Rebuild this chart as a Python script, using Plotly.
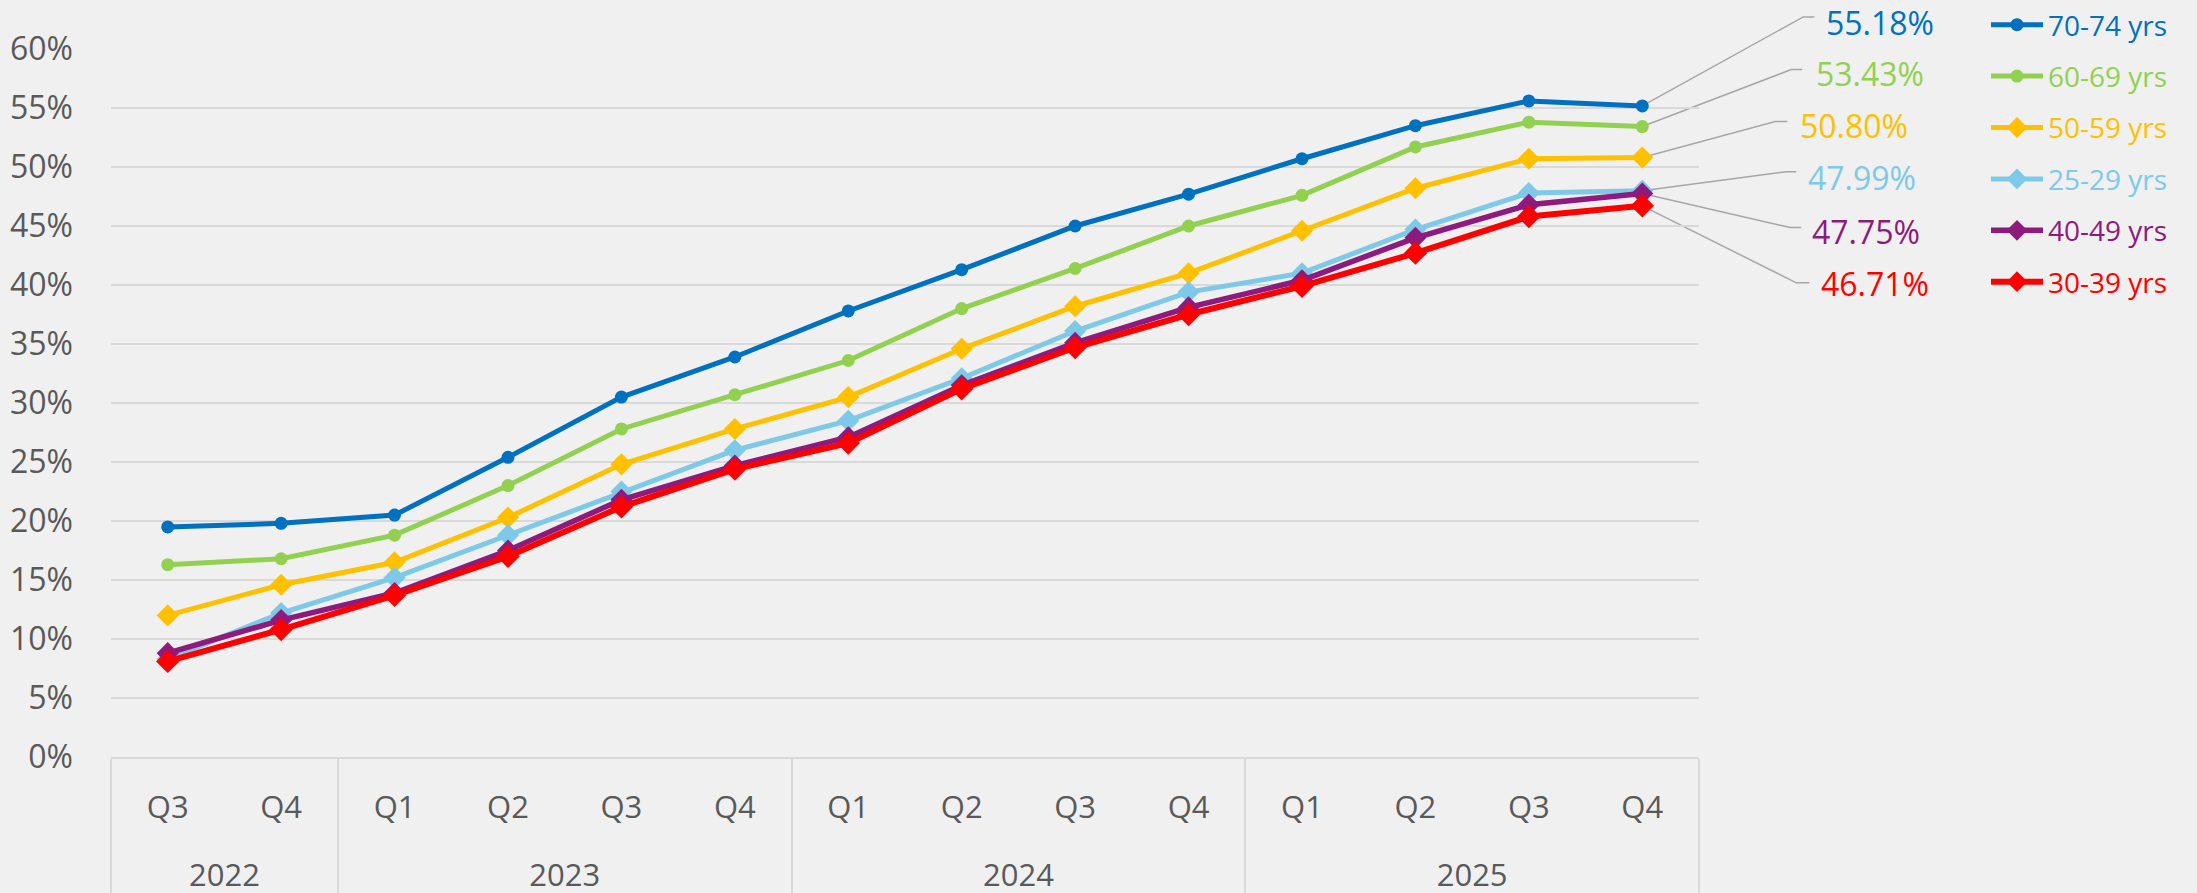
import plotly.graph_objects as go

# ---------------- data ----------------
quarters = ["Q3", "Q4", "Q1", "Q2", "Q3", "Q4", "Q1", "Q2", "Q3", "Q4", "Q1", "Q2", "Q3", "Q4"]
years = ["2022", "2023", "2024", "2025"]
quarters_per_year = [2, 4, 4, 4]

series_names = ["70-74 yrs", "60-69 yrs", "50-59 yrs", "25-29 yrs", "40-49 yrs", "30-39 yrs"]
s_70_74 = [19.5, 19.8, 20.5, 25.4, 30.5, 33.9, 37.8, 41.3, 45.0, 47.7, 50.7, 53.5, 55.6, 55.18]
s_60_69 = [16.3, 16.8, 18.8, 23.0, 27.8, 30.7, 33.6, 38.0, 41.4, 45.0, 47.6, 51.7, 53.8, 53.43]
s_50_59 = [12.0, 14.6, 16.5, 20.3, 24.8, 27.8, 30.5, 34.6, 38.2, 41.0, 44.6, 48.2, 50.7, 50.80]
s_25_29 = [8.3, 12.2, 15.2, 18.8, 22.5, 26.0, 28.5, 32.1, 36.1, 39.4, 41.0, 44.7, 47.8, 47.99]
s_40_49 = [8.8, 11.6, 13.9, 17.5, 21.8, 24.7, 27.1, 31.5, 35.1, 38.1, 40.4, 44.0, 46.8, 47.75]
s_30_39 = [8.1, 10.8, 13.7, 17.0, 21.2, 24.4, 26.6, 31.2, 34.7, 37.5, 39.9, 42.7, 45.8, 46.71]
series_values = [s_70_74, s_60_69, s_50_59, s_25_29, s_40_49, s_30_39]

# ---------------- styles ----------------
colors = ["#0070C0", "#92D050", "#FFC000", "#7DC9E7", "#8E1A7E", "#FF0000"]
symbols = ["circle", "circle", "diamond", "diamond", "diamond", "diamond"]
msizes = [13, 13, 17, 17, 17, 18]
lwidths = [5, 5, 5, 5, 5.5, 6]
# leader-line / label offsets in px relative to last point: (elbow dx, elbow dy, end dx, text dx, text dy)
label_offsets = [
    (161, 89, 172, 182, 83),
    (149, 57, 160, 172, 53),
    (133, 36, 145, 156, 32),
    (144, 19, 154, 164, 13),
    (148, -34, 159, 168, -38),
    (154, -77, 167, 177, -78),
]

FONT = "Open Sans"
TICK = "#595959"
GRID = "#D9D9D9"
BG = "#F0F0F0"

n = len(quarters)
idx = list(range(n))
x_range = [-0.5, n - 0.5]
y_range = [0, 60]

# year group centers and boundaries
bounds = [-0.5]
centers = []
start = 0
for c in quarters_per_year:
    centers.append(start + (c - 1) / 2)
    start += c
    bounds.append(start - 0.5)

fig = go.Figure()
for name, vals, col, sym, ms, lw in zip(series_names, series_values, colors, symbols, msizes, lwidths):
    fig.add_trace(go.Scatter(
        x=idx, y=vals, mode="lines+markers",
        name=f"<span style='color:{col}'>{name}</span>",
        legendgroup=name,
        line=dict(color=col, width=lw),
        marker=dict(symbol=sym, size=ms, color=col, line=dict(width=0)),
        cliponaxis=False,
    ))

# dummy trace to carry the year axis
fig.add_trace(go.Scatter(x=[], y=[], xaxis="x2", showlegend=False, hoverinfo="skip"))

def xpaper(v):
    return (v - x_range[0]) / (x_range[1] - x_range[0])

def ypaper(v):
    return (v - y_range[0]) / (y_range[1] - y_range[0])

last = n - 1
for vals, col, (ex, ey, endx, tx, ty) in zip(series_values, colors, label_offsets):
    v = vals[-1]
    fig.add_shape(
        type="path", xref="paper", yref="paper",
        xsizemode="pixel", ysizemode="pixel",
        xanchor=xpaper(idx[last]), yanchor=ypaper(v),
        path=f"M0,0 L{ex},{ey} L{endx},{ey}",
        line=dict(color="#A6A6A6", width=1.5),
        layer="below",
    )
    fig.add_annotation(
        x=idx[last], y=v, xref="x", yref="y",
        text=f"{v:.2f}%", showarrow=False,
        xanchor="left", yanchor="middle",
        xshift=tx, yshift=ty,
        font=dict(family=FONT, size=32, color=col),
    )

fig.update_layout(
    width=2197, height=893,
    paper_bgcolor=BG, plot_bgcolor=BG,
    margin=dict(l=111, r=498, t=49, b=136, autoexpand=False),
    font=dict(family=FONT, size=30, color=TICK),
    showlegend=True,
    legend=dict(
        x=(1986 - 111) / 1588, xanchor="left",
        y=1 + 49 / 708, yanchor="top",
        font=dict(family=FONT, size=28),
        itemwidth=52,
        tracegroupgap=12,
        bgcolor="rgba(0,0,0,0)",
        traceorder="grouped",
    ),
    xaxis=dict(
        range=x_range, tickmode="array", tickvals=idx, ticktext=quarters,
        showgrid=False, zeroline=False, automargin=False,
        showline=True, linecolor=GRID, linewidth=2,
        ticks="", ticklabelstandoff=22,
        tickfont=dict(family=FONT, size=31, color=TICK),
        minor=dict(tickmode="array", tickvals=bounds, ticks="outside",
                   ticklen=140, tickcolor=GRID, tickwidth=2, showgrid=False),
    ),
    xaxis2=dict(
        range=x_range, overlaying="x", anchor="y", side="bottom",
        tickmode="array", tickvals=centers, ticktext=years,
        showgrid=False, zeroline=False, showline=False, ticks="",
        automargin=False, ticklabelstandoff=97,
        tickfont=dict(family=FONT, size=31, color=TICK),
    ),
    yaxis=dict(
        range=y_range, dtick=5, ticksuffix="%",
        showgrid=True, gridcolor=GRID, gridwidth=2,
        zeroline=False, showline=False, ticks="", automargin=False,
        ticklabelstandoff=37,
        tickfont=dict(family=FONT, size=32, color=TICK),
    ),
)

fig.write_html(
    "out.html",
    config={"displayModeBar": False},
    post_script="document.body.style.margin='0';document.body.style.overflow='hidden';"
                "document.body.style.background='" + BG + "';",
)
